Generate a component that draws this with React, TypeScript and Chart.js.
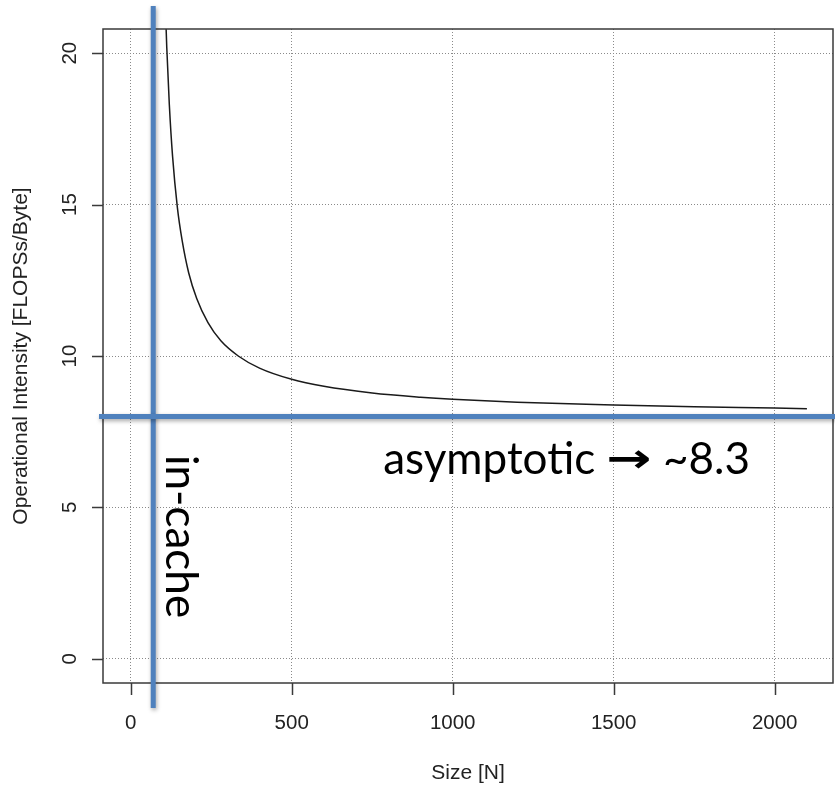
import React, { useEffect, useRef } from "react";
import { Chart, registerables } from "chart.js";

Chart.register(...registerables);

// Size N (x) and operational intensity (y)
const sizeN = [100, 112, 120, 130, 145, 160, 180, 205, 240, 280, 334, 400, 500, 600, 750, 900, 1000, 1200, 1500, 1750, 2000, 2100];
const intensity = [24.0, 20.2, 18.3, 16.6, 14.9, 13.8, 12.75, 11.9, 11.1, 10.5, 10.0, 9.6, 9.23, 9.0, 8.78, 8.64, 8.57, 8.47, 8.38, 8.32, 8.28, 8.26];

const xTicks = [0, 500, 1000, 1500, 2000];
const yTicks = [0, 5, 10, 15, 20];
const xRange = [-86, 2181];
const yRange = [-0.8, 20.8];

const inCacheN = 70;
const asymptoteLevel = 8.0;

const xTitle = "Size [N]";
const yTitle = "Operational Intensity [FLOPSs/Byte]";
const asymParts = ["asymptotic ", "\u2192", " ~8.3"];
const cacheText = "in-cache";

const BLUE = "#4F81BD";
const TICK_FONT = '20.5px "Liberation Sans", Arial, sans-serif';
const TITLE_FONT = '21px "Liberation Sans", Arial, sans-serif';
const NOTE_FONT = '44px Lato, "Open Sans", sans-serif';
const ARROW_FONT = 'bold 40px "DejaVu Sans", sans-serif';
const ARROW_STRETCH = 1.35;

const overlay = {
  id: "overlay",
  afterDatasetsDraw(chart: any) {
    const { ctx, chartArea, scales } = chart;
    const xs = scales.x;
    const ys = scales.y;
    const { left, right, top, bottom } = chartArea;
    ctx.save();
    // frame
    ctx.strokeStyle = "#3a3a3a";
    ctx.lineWidth = 1.5;
    ctx.strokeRect(left, top, right - left, bottom - top);
    // ticks
    ctx.beginPath();
    xTicks.forEach((v) => {
      const px = Math.round(xs.getPixelForValue(v)) + 0.5;
      ctx.moveTo(px, bottom);
      ctx.lineTo(px, bottom + 12);
    });
    yTicks.forEach((v) => {
      const py = Math.round(ys.getPixelForValue(v)) + 0.5;
      ctx.moveTo(left, py);
      ctx.lineTo(left - 11, py);
    });
    ctx.stroke();
    // tick labels
    ctx.fillStyle = "#222";
    ctx.font = TICK_FONT;
    ctx.textAlign = "center";
    ctx.textBaseline = "alphabetic";
    xTicks.forEach((v) => {
      ctx.fillText(String(v), xs.getPixelForValue(v), bottom + 46);
    });
    yTicks.forEach((v) => {
      ctx.save();
      ctx.translate(left - 27, ys.getPixelForValue(v));
      ctx.rotate(-Math.PI / 2);
      ctx.fillText(String(v), 0, 0);
      ctx.restore();
    });
    // axis titles
    ctx.font = TITLE_FONT;
    ctx.fillText(xTitle, (left + right) / 2, bottom + 96);
    ctx.save();
    ctx.translate(left - 76, (top + bottom) / 2);
    ctx.rotate(-Math.PI / 2);
    ctx.fillText(yTitle, 0, 0);
    ctx.restore();

    // blue overlay lines
    ctx.save();
    ctx.shadowColor = "rgba(0,0,0,0.35)";
    ctx.shadowBlur = 4;
    ctx.shadowOffsetX = 1;
    ctx.shadowOffsetY = 2;
    ctx.strokeStyle = BLUE;
    ctx.lineWidth = 5;
    ctx.lineCap = "butt";
    const vx = xs.getPixelForValue(inCacheN);
    ctx.beginPath();
    ctx.moveTo(vx, top - 23);
    ctx.lineTo(vx, bottom + 25);
    ctx.stroke();
    const hy = ys.getPixelForValue(asymptoteLevel);
    ctx.beginPath();
    ctx.moveTo(left - 4, hy);
    ctx.lineTo(chart.width, hy);
    ctx.stroke();
    ctx.restore();

    // notes
    ctx.fillStyle = "#000";
    ctx.textAlign = "left";
    ctx.textBaseline = "alphabetic";
    let tx = xs.getPixelForValue(784);
    const ty = ys.getPixelForValue(6.1);
    asymParts.forEach((p, i) => {
      if (i === 1) {
        ctx.font = ARROW_FONT;
        const w = ctx.measureText(p).width;
        ctx.save();
        ctx.translate(tx, ty - 2);
        ctx.scale(ARROW_STRETCH, 1);
        ctx.fillText(p, 0, 0);
        ctx.restore();
        tx += w * ARROW_STRETCH;
      } else {
        ctx.font = NOTE_FONT;
        ctx.fillText(p, tx, ty);
        tx += ctx.measureText(p).width;
      }
    });
    ctx.font = NOTE_FONT;
    ctx.save();
    ctx.translate(xs.getPixelForValue(110), ys.getPixelForValue(6.73));
    ctx.rotate(Math.PI / 2);
    ctx.fillText(cacheText, 0, 0);
    ctx.restore();

    ctx.restore();
  },
};

export default function App() {
  const ref = useRef<HTMLCanvasElement | null>(null);
  useEffect(() => {
    if (!ref.current) return;
    const chart = new Chart(ref.current, {
      type: "line",
      data: {
        datasets: [
          {
            data: sizeN.map((n, i) => ({ x: n, y: intensity[i] })),
            borderColor: "#1a1a1a",
            borderWidth: 1.5,
            pointRadius: 0,
            fill: false,
            cubicInterpolationMode: "monotone",
          },
        ],
      },
      options: {
        responsive: false,
        animation: false,
        devicePixelRatio: 1,
        layout: { padding: { left: 103, top: 29, right: 2, bottom: 102 } },
        plugins: { legend: { display: false }, tooltip: { enabled: false } },
        scales: {
          x: {
            type: "linear",
            min: xRange[0],
            max: xRange[1],
            afterBuildTicks: (s: any) => {
              s.ticks = xTicks.map((v) => ({ value: v }));
            },
            afterFit: (s: any) => {
              s.height = 0;
            },
            ticks: { display: false },
            grid: { color: "#8a8a8a", lineWidth: 1, drawTicks: false },
            border: { display: false, dash: [1, 2] },
          },
          y: {
            type: "linear",
            min: yRange[0],
            max: yRange[1],
            afterBuildTicks: (s: any) => {
              s.ticks = yTicks.map((v) => ({ value: v }));
            },
            afterFit: (s: any) => {
              s.width = 0;
            },
            ticks: { display: false },
            grid: { color: "#8a8a8a", lineWidth: 1, drawTicks: false },
            border: { display: false, dash: [1, 2] },
          },
        },
      },
      plugins: [overlay],
    } as any);
    return () => chart.destroy();
  }, []);
  return (
    <div style={{ position: "absolute", left: 0, top: 0, width: 835, height: 785, background: "#fff" }}>
      <canvas ref={ref} width={835} height={785} style={{ width: 835, height: 785, display: "block" }} />
    </div>
  );
}
